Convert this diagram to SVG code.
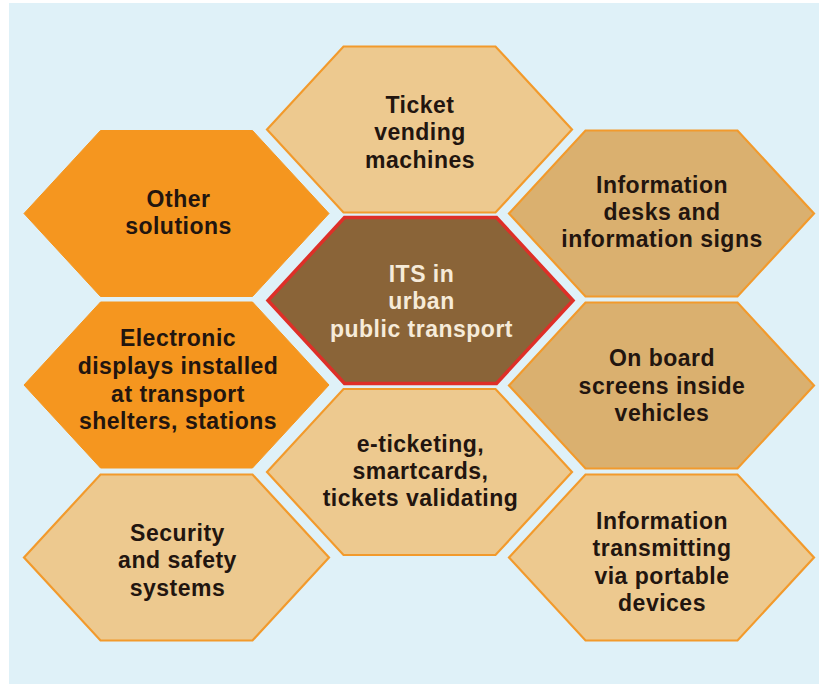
<svg xmlns="http://www.w3.org/2000/svg" xmlns:xlink="http://www.w3.org/1999/xlink" width="819" height="684" viewBox="0 0 819 684">
<defs>
<polygon id="hex" points="-76,-83 76,-83 152.5,0 76,83 -76,83 -152.5,0"/>
<style>
.bg{fill:#dff1f8}
.light{fill:#edc98f;stroke:#f29a2c;stroke-width:2.2}
.tan{fill:#dab06f;stroke:#f29a2c;stroke-width:2.2}
.orange{fill:#f5961f;stroke:#f5961f;stroke-width:1}
.core{fill:#8a6438;stroke:#de2f28;stroke-width:3.5}
text{font-family:"Liberation Sans",Arial,Helvetica,sans-serif;font-weight:bold;font-size:23px;letter-spacing:0.5px;text-anchor:middle;fill:#22150f}
text.inv{fill:#f6ebd9}
</style>
</defs>
<rect x="0" y="0" width="819" height="684" fill="#ffffff"/>
<rect class="bg" x="9" y="3" width="810" height="681"/>
<g id="connectors"/>
<g id="ticket-vending">
<use href="#hex" xlink:href="#hex" class="light" x="419.5" y="129.5"/>
<text><tspan x="420" y="113">Ticket</tspan><tspan x="420" y="140">vending</tspan><tspan x="420" y="168">machines</tspan></text>
</g>
<g id="other-solutions">
<use href="#hex" xlink:href="#hex" class="orange" x="176.5" y="213.5"/>
<text><tspan x="178.5" y="207">Other</tspan><tspan x="178.5" y="234">solutions</tspan></text>
</g>
<g id="information-desks">
<use href="#hex" xlink:href="#hex" class="tan" x="661.5" y="213.5"/>
<text><tspan x="662" y="193">Information</tspan><tspan x="662" y="220">desks and</tspan><tspan x="662" y="247">information signs</tspan></text>
</g>
<g id="its-core">
<use href="#hex" xlink:href="#hex" class="core" x="420.5" y="300.5"/>
<text class="inv"><tspan x="421.5" y="282">ITS in</tspan><tspan x="421.5" y="309">urban</tspan><tspan x="421.5" y="337">public transport</tspan></text>
</g>
<g id="electronic-displays">
<use href="#hex" xlink:href="#hex" class="orange" x="176.5" y="385"/>
<text><tspan x="178" y="346">Electronic</tspan><tspan x="178" y="374">displays installed</tspan><tspan x="178" y="402">at transport</tspan><tspan x="178" y="429">shelters, stations</tspan></text>
</g>
<g id="on-board-screens">
<use href="#hex" xlink:href="#hex" class="tan" x="661.5" y="385.5"/>
<text><tspan x="662" y="366">On board</tspan><tspan x="662" y="394">screens inside</tspan><tspan x="662" y="421">vehicles</tspan></text>
</g>
<g id="e-ticketing">
<use href="#hex" xlink:href="#hex" class="light" x="419.5" y="472"/>
<text><tspan x="420.5" y="452">e-ticketing,</tspan><tspan x="420.5" y="479">smartcards,</tspan><tspan x="420.5" y="506">tickets validating</tspan></text>
</g>
<g id="security-safety">
<use href="#hex" xlink:href="#hex" class="light" x="176.5" y="557.5"/>
<text><tspan x="177.5" y="541">Security</tspan><tspan x="177.5" y="568">and safety</tspan><tspan x="177.5" y="596">systems</tspan></text>
</g>
<g id="information-transmitting">
<use href="#hex" xlink:href="#hex" class="light" x="661.5" y="557.5"/>
<text><tspan x="662" y="529">Information</tspan><tspan x="662" y="556">transmitting</tspan><tspan x="662" y="584">via portable</tspan><tspan x="662" y="611">devices</tspan></text>
</g>
</svg>
